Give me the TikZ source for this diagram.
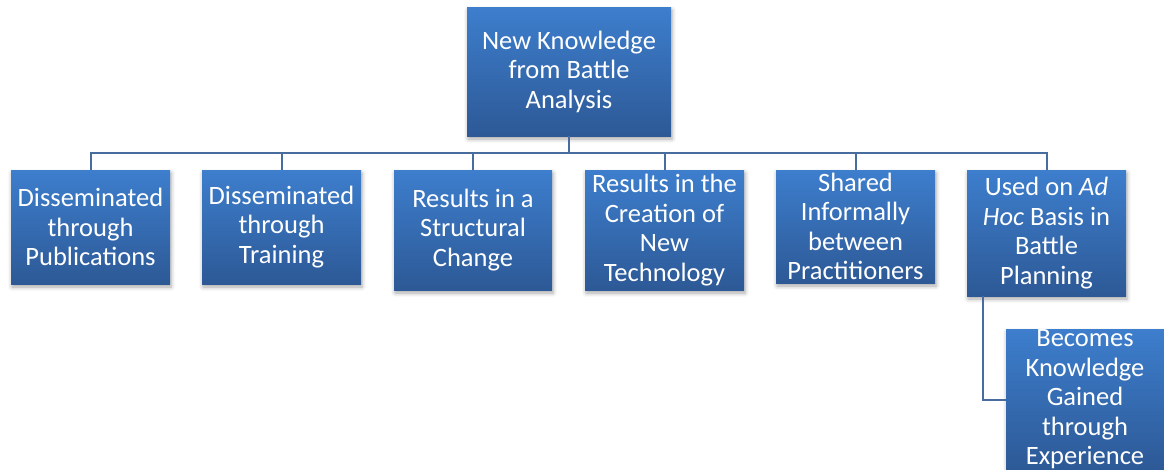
\documentclass[tikz,border=0pt]{standalone}
\usepackage{fontspec}
\setmainfont{Carlito}
\usetikzlibrary{shadows.blur}
\definecolor{boxtop}{RGB}{61,126,205}
\definecolor{boxmid}{RGB}{53,110,182}
\definecolor{boxbottom}{RGB}{45,89,150}
\definecolor{linkblue}{RGB}{72,108,158}
\tikzset{
  box/.style={rectangle, top color=boxtop, middle color=boxmid, bottom color=boxbottom,
    text=white, align=center, inner sep=0pt,
    font=\fontsize{26.5}{29.5}\selectfont,
    blur shadow={shadow xshift=1pt, shadow yshift=-3pt, shadow blur radius=4pt, shadow opacity=35}},
  link/.style={draw=linkblue, line width=2pt}
}
\begin{document}
\begin{tikzpicture}[x=1pt,y=-1pt]
  \useasboundingbox (0,0) rectangle (1164,469);
  % Draw the top box
  \node[box, minimum width=204pt, minimum height=129pt] (knowledge) at (569,71.5)
    {New Knowledge\\from Battle\\Analysis};
  % Draw the row of results
  \node[box, minimum width=159pt, minimum height=114pt] (pubs) at (90.5,227)
    {Disseminated\\through\\Publications};
  \node[box, minimum width=159pt, minimum height=114pt] (training) at (281.5,227)
    {Disseminated\\through\\Training};
  \node[box, minimum width=158pt, minimum height=120pt] (structure) at (473,230)
    {Results in a\\Structural\\Change};
  \node[box, minimum width=159pt, minimum height=120pt] (tech) at (664.5,230)
    {Results in the\\Creation of\\New\\Technology};
  \node[box, minimum width=159pt, minimum height=113pt] (informal) at (855.5,226.5)
    {Shared\\Informally\\between\\Practitioners};
  \node[box, minimum width=159pt, minimum height=126pt] (adhoc) at (1046.5,233)
    {Used on \textit{Ad}\\\textit{Hoc} Basis in\\Battle\\Planning};
  % Draw the box under the last one
  \node[box, minimum width=158pt, minimum height=141pt] (experience) at (1085,399.5)
    {Becomes\\Knowledge\\Gained\\through\\Experience};
  % Draw the links
  \draw[link] (knowledge.south) -- ++(0,17) -| (pubs.north);
  \draw[link] (knowledge.south) -- ++(0,17) -| (training.north);
  \draw[link] (knowledge.south) -- ++(0,17) -| (structure.north);
  \draw[link] (knowledge.south) -- ++(0,17) -| (tech.north);
  \draw[link] (knowledge.south) -- ++(0,17) -| (informal.north);
  \draw[link] (knowledge.south) -- ++(0,17) -| (adhoc.north);
  \draw[link] ([xshift=16pt]adhoc.south west) |- (experience.west);
\end{tikzpicture}
\end{document}
